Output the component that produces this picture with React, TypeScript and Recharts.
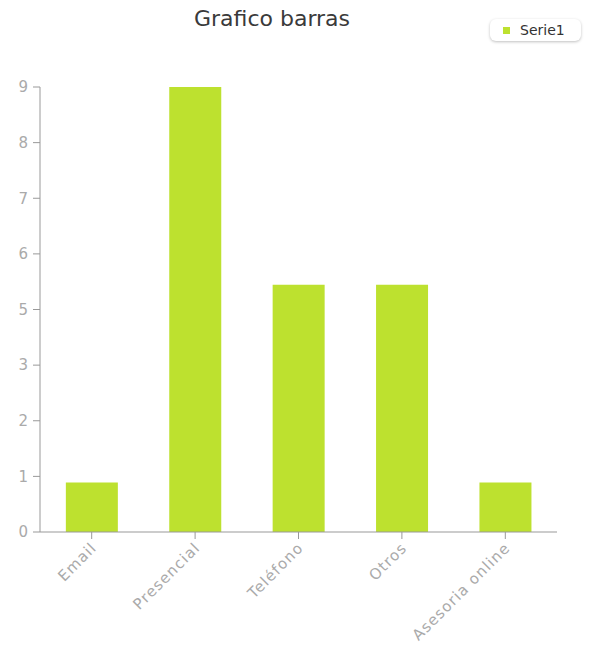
import React from 'react';
import { BarChart, Bar, XAxis, YAxis } from 'recharts';

const categories = ['Email', 'Presencial', 'Teléfono', 'Otros', 'Asesoria online'];
const serie1 = [1, 9, 5, 5, 1];
const yTickValues = [0, 1.125, 2.25, 3.375, 4.5, 5.625, 6.75, 7.875, 9];
const yTickLabels = ['0', '1', '2', '3', '5', '6', '7', '8', '9'];

const data = categories.map((name, i) => ({ name, Serie1: serie1[i] }));

const FONT = 'Tahoma, "DejaVu Sans", Verdana, sans-serif';
const GREEN = '#bde12f';

const XTick = (props: any) => {
    const { x, y, payload } = props;
    return (
        <g transform={`translate(${x + 3},${y + 5})`}>
            <text
                transform="rotate(-45)"
                textAnchor="end"
                dy={4}
                fill="#aaaaaa"
                fontSize={15}
                letterSpacing={1.1}
                fontFamily={FONT}
            >
                {payload.value}
            </text>
        </g>
    );
};

export default function App() {
    return (
        <div style={{ position: 'absolute', left: 0, top: 0, width: 591, height: 646, background: '#fff' }}>
            <div
                style={{
                    position: 'absolute',
                    top: 6,
                    left: 172,
                    width: 200,
                    textAlign: 'center',
                    fontFamily: FONT,
                    fontSize: 22,
                    color: '#3a3a3a'
                }}
            >
                Grafico barras
            </div>
            {/* legend box, top right */}
            <div
                style={{
                    position: 'absolute',
                    top: 19,
                    left: 490,
                    display: 'flex',
                    alignItems: 'center',
                    background: '#fff',
                    borderRadius: 6,
                    boxShadow: '0 1px 3px rgba(0,0,0,0.25)',
                    padding: '3px 16px 3px 13px',
                    fontFamily: FONT,
                    fontSize: 14,
                    color: '#333',
                    zIndex: 2
                }}
            >
                <span style={{ width: 7, height: 7, background: GREEN, display: 'inline-block', marginRight: 10 }} />
                Serie1
            </div>
            <BarChart
                width={591}
                height={646}
                data={data}
                margin={{ top: 87, right: 34, left: 0, bottom: 0 }}
                barCategoryGap="25%"
            >
                <XAxis
                    dataKey="name"
                    interval={0}
                    height={114}
                    tick={<XTick />}
                    tickSize={7}
                    stroke="#999999"
                    tickLine={{ stroke: '#999999' }}
                />
                <YAxis
                    domain={[0, 9]}
                    ticks={yTickValues}
                    tickFormatter={(v: number) => yTickLabels[yTickValues.indexOf(v)]}
                    width={40}
                    tickSize={7}
                    tickMargin={5}
                    stroke="#999999"
                    tick={{ fill: '#aaaaaa', fontSize: 15, fontFamily: FONT }}
                    interval={0}
                />
                <Bar dataKey="Serie1" fill={GREEN} isAnimationActive={false} />
            </BarChart>
        </div>
    );
}
